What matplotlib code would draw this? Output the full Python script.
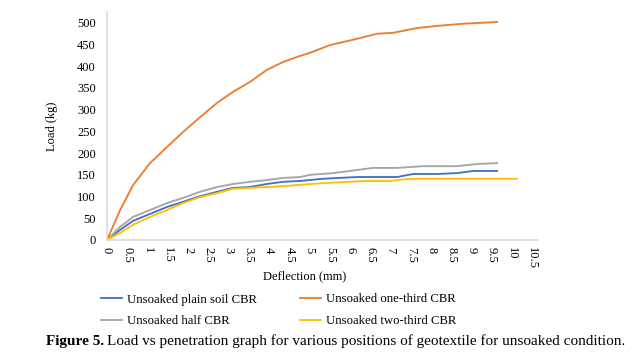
import matplotlib
matplotlib.use("Agg")
import matplotlib.pyplot as plt

plt.rcParams['font.family'] = ['Liberation Serif', 'DejaVu Serif']

# ---- data ----
x_ticks = [0, 0.5, 1, 1.5, 2, 2.5, 3, 3.5, 4, 4.5, 5, 5.5, 6, 6.5, 7, 7.5, 8, 8.5, 9, 9.5, 10, 10.5]
y_ticks = [0, 50, 100, 150, 200, 250, 300, 350, 400, 450, 500]

plain_x = [0, 0.32, 0.64, 1.06, 1.48, 1.88, 2.30, 2.72, 3.11, 3.53, 3.95, 4.35, 4.77, 5.33, 6.17,
           7.16, 7.56, 8.15, 8.64, 9.04, 9.63]
plain_y = [0, 23, 44, 60, 76, 88, 101, 111, 120, 122, 129, 134, 136, 141, 145,
           145, 152, 152, 154, 159, 159]

third_x = [0, 0.32, 0.64, 1.06, 1.48, 1.88, 2.30, 2.72, 3.11, 3.53, 3.95, 4.35, 4.77, 5.01, 5.51,
           6.07, 6.67, 7.06, 7.65, 8.15, 8.79, 9.63]
third_y = [0, 68, 126, 177, 214, 249, 283, 316, 341, 364, 392, 410, 424, 431, 449,
           461, 475, 477, 488, 493, 498, 502]

half_x = [0, 0.32, 0.64, 1.06, 1.48, 1.88, 2.30, 2.72, 3.11, 3.53, 3.95, 4.35, 4.77, 5.01, 5.58,
          6.00, 6.57, 7.16, 7.80, 8.64, 9.14, 9.63]
half_y = [0, 30, 53, 69, 85, 97, 111, 122, 129, 134, 138, 143, 145, 150, 154,
          159, 166, 166, 170, 170, 175, 177]

twothird_x = [0, 0.32, 0.64, 1.06, 1.48, 1.88, 2.30, 2.72, 3.11, 3.53, 3.95, 4.35, 4.77, 5.33,
              6.42, 6.99, 7.48, 10.12]
twothird_y = [0, 16, 35, 53, 69, 85, 99, 108, 118, 120, 122, 124, 127, 131,
              136, 136, 141, 141]

labels = ["Unsoaked plain soil CBR", "Unsoaked one-third CBR",
          "Unsoaked half CBR", "Unsoaked two-third CBR"]
colors = ["#4472C4", "#ED7D31", "#A5A5A5", "#FFC000"]

fig = plt.figure(figsize=(6.44, 3.52), dpi=100)
ax = fig.add_axes([107/644, 1-240/352, (538-107)/644, (240-12)/352])

lw = 1.35
l_plain, = ax.plot(plain_x, plain_y, color=colors[0], lw=lw, label=labels[0])
l_third, = ax.plot(third_x, third_y, color=colors[1], lw=lw, label=labels[1])
l_half, = ax.plot(half_x, half_y, color=colors[2], lw=lw, label=labels[2])
l_two, = ax.plot(twothird_x, twothird_y, color=colors[3], lw=lw, label=labels[3])

ax.set_xlim(0, 10.64)
ax.set_ylim(0, 525)
ax.set_xticks(x_ticks)
ax.set_xticklabels([("%g" % v) for v in x_ticks], rotation=-90, fontsize=9)
ax.set_yticks(y_ticks)
ax.set_yticklabels([str(v) for v in y_ticks], fontsize=9)
ax.tick_params(axis='both', length=0)
ax.tick_params(axis='y', pad=8)
ax.tick_params(axis='x', pad=5)
for s in ['top', 'right']:
    ax.spines[s].set_visible(False)
for s in ['left', 'bottom']:
    ax.spines[s].set_color('#D9D9D9')
    ax.spines[s].set_linewidth(1.2)

ax.set_ylabel("Load (kg)", fontsize=9, labelpad=14)
ax.set_xlabel("Deflection (mm)", fontsize=9, labelpad=3)
ax.xaxis.set_label_coords((305-107)/(538-107), -0.135)

# legend: row 1 = plain / one-third, row 2 = half / two-third (column-major fill)
fig.legend([l_plain, l_half, l_third, l_two],
           [labels[0], labels[2], labels[1], labels[3]],
           ncol=2, loc='upper left', bbox_to_anchor=(89/644, 1-282/352),
           frameon=False, fontsize=9.2, handlelength=1.65, columnspacing=3.35,
           labelspacing=0.75, handletextpad=0.4)

# caption
cap_y = 1-341/352
t1 = fig.text(46/644, cap_y, "Figure 5.", fontsize=11, fontweight='bold', va='center')
fig.canvas.draw()
bb = t1.get_window_extent()
fig.text((bb.x1 + 3)/644, cap_y,
         "Load vs penetration graph for various positions of geotextile for unsoaked condition.",
         fontsize=11, va='center')

fig.savefig("out.png", dpi=100)
